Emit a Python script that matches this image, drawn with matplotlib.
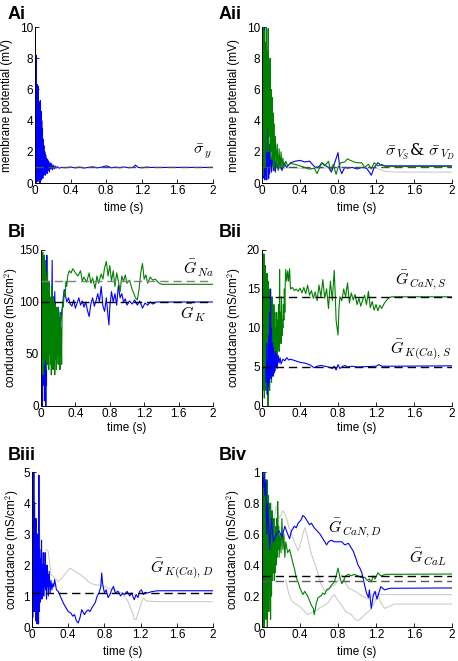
import matplotlib.pyplot as plt
import matplotlib as mpl

# ---- data ----
# panel Ai
ai_t = [0.000, 0.004, 0.008, 0.012, 0.016, 0.020, 0.024, 0.028, 0.032, 0.036, 0.040, 0.044, 0.048, 0.052,
        0.056, 0.060, 0.064, 0.068, 0.072, 0.076, 0.080, 0.084, 0.088, 0.092, 0.096, 0.100, 0.105, 0.110,
        0.115, 0.120, 0.125, 0.130, 0.136, 0.142, 0.148, 0.155, 0.162, 0.170, 0.178, 0.186, 0.195, 0.205,
        0.215, 0.225, 0.235, 0.25, 0.27, 0.3, 0.35, 0.4, 0.45, 0.5, 0.55, 0.6, 0.65, 0.7, 0.75, 0.8, 0.83,
        0.86, 0.9, 0.95, 1.0, 1.05, 1.1, 1.13, 1.16, 1.2, 1.25, 1.3, 2.0]
ai_v = [0.5, 10.0, 0.2, 8.2, 0.0, 6.3, 0.3, 6.3, 0.1, 6.2, 0.4, 5.2, 0.2, 5.0,
        0.0, 5.3, 0.3, 4.6, 0.2, 4.0, 0.5, 3.5, 0.3, 2.8, 0.5, 2.4, 0.6, 2.0,
        0.5, 1.8, 0.7, 1.6, 0.6, 1.5, 0.8, 1.4, 0.7, 1.3, 0.9, 1.25, 0.85, 1.15,
        0.9, 1.1, 0.95, 1.05, 0.95, 1.0, 0.98, 1.03, 0.97, 1.02, 0.96, 1.0, 1.04, 0.97, 1.02, 1.1, 1.05,
        0.97, 1.02, 0.98, 1.03, 0.98, 1.0, 1.15, 1.0, 0.97, 1.02, 1.0, 1.0]
ai_ref = 1.0

# panel Aii
aii_green_t = [0, 0.005, 0.01, 0.015, 0.02, 0.025, 0.03, 0.035, 0.04, 0.045, 0.05, 0.055, 0.06, 0.065,
               0.07, 0.075, 0.08, 0.085, 0.09, 0.095, 0.1, 0.105, 0.11, 0.115, 0.12, 0.125, 0.13, 0.14,
               0.15, 0.16, 0.17, 0.18, 0.19, 0.2, 0.21, 0.22, 0.23, 0.25, 0.27, 0.3, 0.35, 0.4, 0.45, 0.5,
               0.55, 0.58, 0.6, 0.63, 0.66, 0.7, 0.72, 0.75, 0.78, 0.8, 0.83, 0.87, 0.9, 0.93, 0.97, 1.0,
               1.05, 1.08, 1.12, 1.15, 1.18, 1.22, 1.26, 1.3, 2.0]
aii_green_v = [0.5, 9.5, 0.5, 10, 2, 9.8, 1, 9, 3, 10, 2, 8.5, 3.5, 9.9,
               2, 7.5, 3, 8, 1.5, 6, 2, 5.5, 1.5, 4.5, 1, 3.8, 0.8, 3.0,
               1.0, 2.5, 0.8, 2.2, 0.9, 2.0, 1.0, 1.6, 1.0, 1.4, 1.1, 1.25, 1.2, 1.1, 1.0, 0.9,
               0.95, 0.6, 0.9, 1.3, 1.1, 1.4, 0.8, 1.2, 0.55, 1.0, 1.3, 1.35, 1.55, 1.45, 1.35, 1.3,
               1.3, 1.0, 1.2, 0.9, 1.3, 1.1, 1.2, 1.06, 1.06]
aii_blue_t = [0, 0.005, 0.01, 0.015, 0.02, 0.025, 0.03, 0.035, 0.04, 0.045, 0.05, 0.055, 0.06, 0.065,
              0.07, 0.075, 0.08, 0.09, 0.1, 0.11, 0.12, 0.13, 0.14, 0.15, 0.17, 0.19, 0.21, 0.23, 0.26,
              0.3, 0.35, 0.4, 0.45, 0.5, 0.53, 0.56, 0.6, 0.63, 0.66, 0.7, 0.73, 0.76, 0.8, 0.82, 0.84,
              0.87, 0.9, 0.95, 1.0, 1.05, 1.1, 1.13, 1.15, 1.18, 1.22, 1.25, 1.3, 2.0]
aii_blue_v = [0.5, 10, 0.3, 9, 1, 10, 0.2, 7, 0.5, 5.5, 0.2, 4.5, 1, 3.5,
              0.3, 2.5, 0.6, 2.0, 0.7, 2.0, 0.8, 1.8, 0.7, 1.5, 0.9, 1.4, 0.8, 1.3, 1.0,
              1.3, 1.4, 1.45, 1.35, 1.4, 1.2, 1.0, 1.05, 1.3, 1.15, 1.0, 0.7, 1.2, 1.95, 0.9, 0.6,
              1.0, 0.95, 1.0, 0.9, 1.0, 0.95, 0.7, 0.5, 1.0, 1.3, 1.15, 1.1, 1.1]
aii_gray_t = [0.2, 0.25, 0.3, 0.4, 0.5, 0.6, 0.8, 1.0, 1.2, 1.25, 1.3, 1.4, 2.0]
aii_gray_v = [0.9, 0.95, 1.0, 0.95, 0.9, 0.95, 1.0, 1.0, 0.95, 0.85, 0.75, 0.7, 0.7]
aii_ref = 1.0

# panel Bi
bi_green_t = [0, 0.004, 0.008, 0.012, 0.016, 0.02, 0.024, 0.028, 0.032, 0.036, 0.04, 0.044, 0.048, 0.052,
              0.056, 0.06, 0.064, 0.068, 0.072, 0.076, 0.08, 0.085, 0.09, 0.095, 0.1, 0.105, 0.11, 0.115,
              0.12, 0.125, 0.13, 0.135, 0.14, 0.145, 0.15, 0.155, 0.16, 0.165, 0.17, 0.175, 0.18, 0.185,
              0.19, 0.195, 0.2, 0.205, 0.21, 0.215, 0.22, 0.225, 0.23, 0.235, 0.24, 0.245, 0.25, 0.26,
              0.27, 0.28, 0.29, 0.3, 0.31, 0.33, 0.35, 0.37, 0.4, 0.43, 0.46, 0.48, 0.5, 0.53, 0.56, 0.58,
              0.6, 0.63, 0.65, 0.67, 0.7, 0.72, 0.74, 0.76, 0.78, 0.8, 0.82, 0.84, 0.86, 0.88, 0.9, 0.92,
              0.94, 0.96, 0.98, 1.0, 1.03, 1.06, 1.08, 1.1, 1.12, 1.14, 1.16, 1.18, 1.2, 1.22, 1.24, 1.27,
              1.3, 1.33, 1.36, 1.4, 2.0]
bi_green_v = [90, 150, 40, 140, 60, 148, 30, 130, 50, 145, 40, 120, 70, 140,
              45, 125, 35, 115, 60, 130, 40, 110, 35, 120, 50, 105, 40, 100,
              30, 115, 45, 95, 35, 105, 40, 95, 30, 100, 45, 90, 35, 95,
              50, 85, 40, 92, 45, 80, 35, 90, 50, 75, 40, 85, 100, 95,
              110, 105, 120, 115, 125, 130, 128, 132, 128, 125, 130, 120, 124, 119, 128, 118,
              123, 113, 125, 118, 127, 122, 133, 139, 125, 135, 120, 130, 115, 128, 120, 110,
              125, 120, 126, 118, 121, 112, 108, 104, 102, 112, 128, 137, 122, 126, 118, 124,
              121, 122, 119, 117, 117]
bi_blue_t = [0, 0.004, 0.008, 0.012, 0.016, 0.02, 0.024, 0.028, 0.032, 0.036, 0.04, 0.044, 0.048, 0.052,
             0.056, 0.06, 0.064, 0.068, 0.072, 0.076, 0.08, 0.085, 0.09, 0.095, 0.1, 0.11, 0.12, 0.13,
             0.135, 0.14, 0.15, 0.16, 0.17, 0.18, 0.19, 0.2, 0.21, 0.215, 0.22, 0.23, 0.24, 0.25, 0.26,
             0.27, 0.28, 0.3, 0.32, 0.34, 0.36, 0.38, 0.4, 0.42, 0.44, 0.46, 0.48, 0.5, 0.52, 0.54, 0.56,
             0.58, 0.6, 0.62, 0.64, 0.66, 0.68, 0.7, 0.72, 0.74, 0.76, 0.78, 0.79, 0.8, 0.82, 0.84, 0.86,
             0.88, 0.9, 0.92, 0.94, 0.96, 0.98, 1.0, 1.03, 1.06, 1.09, 1.12, 1.15, 1.18, 1.21, 1.24, 1.27,
             1.3, 1.34, 2.0]
bi_blue_v = [60, 145, 10, 130, 0, 110, 40, 140, 20, 120, 5, 100, 30, 125,
             0, 90, 20, 145, 40, 120, 60, 100, 50, 110, 70, 95, 60, 140,
             65, 100, 75, 110, 70, 90, 80, 95, 65, 85, 62, 80, 90, 95, 105,
             112, 108, 100, 104, 98, 96, 102, 94, 99, 104, 97, 101, 95, 100, 92, 86,
             98, 104, 96, 101, 108, 100, 115, 96, 91, 104, 86, 78, 95, 110, 100, 108,
             97, 116, 104, 108, 100, 103, 97, 101, 98, 102, 97, 101, 94, 99, 97, 100,
             98, 100, 100]
bi_ref_na = 120
bi_ref_k = 100

# panel Bii
bii_green_t = [0, 0.004, 0.008, 0.012, 0.016, 0.02, 0.024, 0.028, 0.032, 0.036, 0.04, 0.044, 0.048, 0.052,
               0.056, 0.06, 0.064, 0.068, 0.072, 0.076, 0.08, 0.085, 0.09, 0.095, 0.1, 0.105, 0.11, 0.115,
               0.12, 0.125, 0.13, 0.135, 0.14, 0.145, 0.15, 0.155, 0.16, 0.165, 0.17, 0.175, 0.18, 0.185,
               0.19, 0.195, 0.2, 0.205, 0.21, 0.215, 0.22, 0.225, 0.23, 0.235, 0.24, 0.245, 0.25, 0.26,
               0.27, 0.28, 0.29, 0.3, 0.32, 0.34, 0.36, 0.38, 0.4, 0.42, 0.44, 0.46, 0.48, 0.5, 0.52, 0.54,
               0.56, 0.58, 0.6, 0.62, 0.64, 0.66, 0.68, 0.7, 0.72, 0.74, 0.76, 0.77, 0.78, 0.8, 0.81, 0.82,
               0.84, 0.86, 0.88, 0.9, 0.92, 0.94, 0.96, 0.98, 1.0, 1.02, 1.04, 1.06, 1.08, 1.1, 1.12, 1.14,
               1.16, 1.18, 1.2, 1.22, 1.24, 1.26, 1.28, 1.3, 1.33, 1.36, 2.0]
bii_green_v = [3, 20, 2, 18, 5, 19.5, 1, 16, 4, 18, 2, 15, 6, 17,
               3, 14, 0, 16, 5, 13, 2, 15, 6, 12, 3, 14, 7, 11,
               4, 13, 6, 12, 5, 10, 7, 12, 6, 11, 8, 13, 7, 17.5,
               9, 12, 8, 14, 9, 11, 10, 13, 11, 15, 12, 16, 17.5, 16,
               17.3, 16, 17.6, 15, 15.2, 14.8, 15, 14.7, 15.1, 14.5, 15.2, 14.4, 15.5, 14.2, 14.8, 13.8,
               14.6, 13.5, 15.5, 14.0, 16.2, 13.8, 15.0, 12.5, 16.0, 13.5, 17.4, 14.5, 11.0, 9.1, 12.5, 14.0,
               13.5, 15.0, 14.0, 15.8, 13.2, 14.5, 13.6, 14.3, 13.0, 13.8, 12.8, 13.6, 14.2, 13.0, 14.7, 12.6,
               13.4, 12.3, 13.0, 12.2, 12.9, 12.5, 13.0, 13.4, 13.8, 14.0, 14.0]
bii_blue_t = [0.04, 0.045, 0.05, 0.055, 0.06, 0.065, 0.07, 0.075, 0.08, 0.085, 0.09, 0.095, 0.1, 0.105,
              0.11, 0.115, 0.12, 0.125, 0.13, 0.135, 0.14, 0.145, 0.15, 0.16, 0.17, 0.18, 0.19, 0.2, 0.22,
              0.24, 0.26, 0.28, 0.3, 0.35, 0.4, 0.45, 0.5, 0.55, 0.58, 0.62, 0.66, 0.7, 0.74, 0.76, 0.78,
              0.8, 0.82, 0.84, 0.87, 0.9, 0.95, 1.0, 1.1, 1.2, 1.23, 1.26, 1.4, 2.0]
bii_blue_v = [5, 3, 8, 1.5, 6, 2.5, 9, 3, 12, 4, 15, 3.5, 10, 4.5,
              8, 3.8, 7.5, 4.2, 6.5, 4.5, 7.0, 5.0, 6.8, 4.8, 6.5, 5.5, 6.2, 5.4, 6.0,
              5.8, 6.2, 5.9, 6.0, 5.8, 5.6, 5.5, 5.3, 4.9, 5.1, 5.2, 5.1, 5.0, 4.8, 5.1, 4.6,
              5.3, 4.8, 5.0, 5.2, 5.0, 5.1, 5.0, 5.05, 5.1, 5.3, 5.1, 5.1, 5.15]
bii_ref_can = 14
bii_ref_kca = 5

# panel Biii
biii_blue_t = [0, 0.004, 0.008, 0.012, 0.016, 0.02, 0.024, 0.028, 0.032, 0.036, 0.04, 0.044, 0.048, 0.052,
               0.056, 0.06, 0.064, 0.068, 0.072, 0.076, 0.08, 0.085, 0.09, 0.095, 0.1, 0.105, 0.11, 0.115,
               0.12, 0.125, 0.13, 0.135, 0.14, 0.145, 0.15, 0.155, 0.16, 0.165, 0.17, 0.175, 0.18, 0.19,
               0.2, 0.21, 0.22, 0.23, 0.24, 0.25, 0.27, 0.29, 0.32, 0.35, 0.38, 0.4, 0.43, 0.45, 0.47, 0.49,
               0.51, 0.53, 0.55, 0.57, 0.58, 0.6, 0.62, 0.64, 0.66, 0.68, 0.7, 0.72, 0.74, 0.76, 0.77, 0.78,
               0.8, 0.82, 0.84, 0.86, 0.88, 0.9, 0.92, 0.95, 0.98, 1.0, 1.02, 1.05, 1.08, 1.1, 1.12, 1.13,
               1.15, 1.17, 1.19, 1.21, 1.23, 1.25, 1.28, 1.32, 1.39, 2.0]
biii_blue_v = [2, 5, 0.3, 4.3, 1, 5, 0.5, 4, 1.5, 3.2, 0.2, 3.5, 0.8, 2.8,
               0.1, 3, 1.2, 2.5, 0.1, 4.9, 0.5, 2.5, 0.8, 2.2, 1.0, 2.8, 0.9, 2.0,
               1.2, 2.4, 1.0, 2.0, 1.3, 2.4, 1.2, 1.8, 0.9, 2.0, 1.3, 1.7, 1.0, 1.8,
               1.1, 1.5, 1.2, 1.4, 1.3, 1.53, 1.2, 1.15, 0.94, 0.75, 0.6, 0.5, 0.45, 0.35, 0.4, 0.2,
               0.13, 0.3, 0.56, 0.45, 0.4, 0.5, 0.55, 0.5, 0.61, 0.7, 0.8, 1.0, 1.1, 1.3, 1.74, 1.4,
               1.1, 1.2, 0.95, 1.04, 1.2, 1.31, 1.1, 1.15, 1.0, 1.1, 1.04, 1.15, 1.0, 1.1, 0.95, 0.88,
               1.05, 0.95, 1.15, 1.2, 1.05, 1.12, 1.1, 1.14, 1.17, 1.17]
biii_gray_t = [0.15, 0.18, 0.21, 0.25, 0.29, 0.32, 0.36, 0.39, 0.42, 0.45, 0.47, 0.5, 0.53, 0.56, 0.6,
               0.62, 0.66, 0.69, 0.74, 0.8, 0.85, 0.91, 0.95, 0.99, 1.03, 1.06, 1.09, 1.12, 1.13, 1.15,
               1.17, 1.19, 1.21, 1.23, 1.26, 1.3, 1.4, 2.0]
biii_gray_v = [2.5, 2.44, 1.69, 1.6, 1.47, 1.55, 1.69, 1.8, 1.9, 1.85, 1.8, 1.75, 1.7, 1.63, 1.55,
               1.47, 1.4, 1.37, 1.35, 1.31, 1.25, 1.2, 1.15, 1.1, 0.95, 0.83, 0.6, 0.4, 0.25, 0.24,
               0.45, 0.61, 0.8, 0.94, 0.85, 0.83, 0.82, 0.82]
biii_ref = 1.1

# panel Biv
biv_green_t = [0, 0.004, 0.008, 0.012, 0.016, 0.02, 0.024, 0.028, 0.032, 0.036, 0.04, 0.044, 0.048, 0.052,
               0.056, 0.06, 0.064, 0.068, 0.072, 0.076, 0.08, 0.085, 0.09, 0.095, 0.1, 0.105, 0.11, 0.115,
               0.12, 0.125, 0.13, 0.135, 0.14, 0.145, 0.15, 0.155, 0.16, 0.165, 0.17, 0.175, 0.18, 0.19,
               0.2, 0.21, 0.22, 0.23, 0.24, 0.25, 0.27, 0.29, 0.31, 0.33, 0.34, 0.36, 0.38, 0.4, 0.43, 0.45,
               0.48, 0.5, 0.52, 0.54, 0.55, 0.57, 0.59, 0.62, 0.64, 0.66, 0.68, 0.71, 0.73, 0.76, 0.78, 0.8,
               0.82, 0.84, 0.86, 0.88, 0.91, 0.94, 0.97, 1.01, 1.04, 1.08, 1.11, 1.13, 1.15, 1.17, 1.19,
               1.22, 1.25, 1.3, 1.36, 2.0]
biv_green_v = [0.2, 1.0, 0.0, 0.95, 0.1, 0.85, 0.0, 1.0, 0.2, 0.9, 0.05, 0.8, 0.15, 0.95,
               0.0, 0.75, 0.25, 0.85, 0.1, 0.7, 0.3, 0.8, 0.05, 0.65, 0.2, 0.75, 0.3, 0.6,
               0.35, 0.7, 0.3, 0.55, 0.35, 0.65, 0.4, 0.7, 0.45, 0.81, 0.5, 0.65, 0.45, 0.6,
               0.48, 0.7, 0.5, 0.6, 0.45, 0.55, 0.48, 0.5, 0.45, 0.4, 0.38, 0.32, 0.29, 0.25, 0.21, 0.23,
               0.2, 0.17, 0.14, 0.12, 0.08, 0.15, 0.19, 0.2, 0.22, 0.21, 0.24, 0.25, 0.27, 0.29, 0.33, 0.38,
               0.32, 0.28, 0.3, 0.33, 0.34, 0.33, 0.34, 0.33, 0.32, 0.32, 0.3, 0.31, 0.29, 0.33, 0.31,
               0.35, 0.33, 0.34, 0.34, 0.342]
biv_blue_t = [0.01, 0.02, 0.03, 0.04, 0.05, 0.06, 0.08, 0.1, 0.12, 0.15, 0.18, 0.21, 0.24, 0.27, 0.29,
              0.31, 0.34, 0.36, 0.38, 0.41, 0.43, 0.45, 0.47, 0.5, 0.52, 0.55, 0.58, 0.61, 0.63, 0.66,
              0.68, 0.7, 0.73, 0.76, 0.8, 0.84, 0.87, 0.91, 0.94, 0.96, 0.99, 1.01, 1.03, 1.05, 1.07,
              1.08, 1.1, 1.12, 1.13, 1.15, 1.17, 1.19, 1.21, 1.22, 1.25, 1.29, 1.35, 2.0]
biv_blue_v = [0.9, 1.0, 0.85, 0.95, 0.6, 0.8, 0.5, 0.7, 0.55, 0.6, 0.62, 0.58, 0.65, 0.6, 0.57,
              0.62, 0.65, 0.64, 0.67, 0.69, 0.72, 0.71, 0.69, 0.66, 0.67, 0.64, 0.62, 0.6, 0.58, 0.55,
              0.53, 0.55, 0.56, 0.55, 0.55, 0.55, 0.53, 0.54, 0.51, 0.49, 0.44, 0.4, 0.38, 0.35, 0.3,
              0.27, 0.22, 0.19, 0.24, 0.12, 0.2, 0.23, 0.18, 0.2, 0.26, 0.24, 0.25, 0.252]
biv_gray1_t = [0.05, 0.08, 0.1, 0.12, 0.15, 0.18, 0.22, 0.25, 0.28, 0.31, 0.34, 0.38, 0.41, 0.43, 0.45,
               0.48, 0.5, 0.52, 0.55, 0.59, 0.62, 0.66, 0.7, 0.73, 0.76, 0.8, 0.84, 0.87, 0.91, 0.95,
               1.01, 1.05, 1.09, 1.12, 1.15, 1.19, 1.23, 1.29, 1.36, 2.0]
biv_gray1_v = [0.7, 0.6, 0.8, 0.65, 0.78, 0.7, 0.75, 0.72, 0.65, 0.6, 0.55, 0.49, 0.55, 0.6, 0.64,
               0.58, 0.52, 0.47, 0.42, 0.34, 0.28, 0.23, 0.24, 0.26, 0.27, 0.3, 0.34, 0.3, 0.25, 0.24,
               0.22, 0.2, 0.19, 0.18, 0.2, 0.23, 0.21, 0.21, 0.209, 0.209]
biv_gray2_t = [0.25, 0.28, 0.31, 0.35, 0.38, 0.42, 0.45, 0.48, 0.51, 0.55, 0.6, 0.66, 0.7, 0.73, 0.76,
               0.8, 0.84, 0.88, 0.94, 0.98, 1.01, 1.05, 1.08, 1.12, 1.15, 1.19, 1.22, 1.25, 1.29, 1.33,
               1.36, 1.4, 2.0]
biv_gray2_v = [0.3, 0.22, 0.17, 0.15, 0.14, 0.12, 0.1, 0.08, 0.09, 0.1, 0.12, 0.14, 0.16, 0.19, 0.21,
               0.17, 0.14, 0.1, 0.08, 0.05, 0.04, 0.06, 0.08, 0.1, 0.12, 0.17, 0.21, 0.16, 0.12, 0.13,
               0.14, 0.148, 0.148]
biv_ref_cal = 0.33
biv_ref_can = 0.30

time_ticks = [0, 0.4, 0.8, 1.2, 1.6, 2]
time_labels = ['0', '0.4', '0.8', '1.2', '1.6', '2']

BLUE = (0, 0, 1)
GREEN = (0, 0.5, 0)
GRAY = (0.8, 0.8, 0.8)

mpl.rcParams['font.family'] = 'Liberation Sans'
mpl.rcParams['font.size'] = 8
mpl.rcParams['mathtext.fontset'] = 'cm'


def setup_axes(ax, yticks, ylabels, ylabel, ylab_x, xlab_y):
    ax.set_xlim(0, 2)
    ax.set_ylim(yticks[0], yticks[-1])
    ax.set_xticks(time_ticks)
    ax.set_xticklabels(time_labels)
    ax.set_yticks(yticks)
    ax.set_yticklabels(ylabels)
    ax.tick_params(direction='in', length=3, width=0.6, labelsize=8.5, pad=1.5)
    for s in ['top', 'right']:
        ax.spines[s].set_visible(False)
    for s in ['left', 'bottom']:
        ax.spines[s].set_linewidth(0.7)
    ax.set_xlabel('time (s)', fontsize=8.5, va='center')
    ax.set_ylabel(ylabel, fontsize=8.5, va='center')
    ax.xaxis.set_label_coords(0.5, xlab_y)
    ax.yaxis.set_label_coords(ylab_x, 0.5)


def ref_line(ax, y, color='k'):
    ax.axhline(y, color=color, linestyle=(0, (6, 3.5)), linewidth=1.0, zorder=5)


fig = plt.figure(figsize=(4.58, 6.61), dpi=100)

mp = 'membrane potential (mV)'
cond = 'conductance (mS/cm$^2$)'
LFS = 11.5

# Ai
ax = fig.add_axes([0.0764, 0.7231, 0.3886, 0.2360])
ax.plot(ai_t, ai_v, color=BLUE, lw=0.8)
ref_line(ax, ai_ref, (0.3, 0.3, 0.3))
setup_axes(ax, [0, 2, 4, 6, 8, 10], ['0', '2', '4', '6', '8', '10'], mp, -0.155, -0.16)
ax.text(1.88, 2.0, r'$\bar{\sigma}_{\,y}$', fontsize=LFS, ha='center', va='center')

# Aii
ax = fig.add_axes([0.5721, 0.7231, 0.4148, 0.2360])
ax.plot(aii_gray_t, aii_gray_v, color=GRAY, lw=0.8)
ax.plot(aii_blue_t, aii_blue_v, color=BLUE, lw=0.8)
ax.plot(aii_green_t, aii_green_v, color=GREEN, lw=0.8)
ref_line(ax, aii_ref, (0.3, 0.3, 0.3))
setup_axes(ax, [0, 2, 4, 6, 8, 10], ['0', '2', '4', '6', '8', '10'], mp, -0.145, -0.16)
ax.text(1.66, 2.0, r'$\bar{\sigma}_{\,V_S}$& $\bar{\sigma}_{\,V_D}$', fontsize=LFS,
        family='DejaVu Serif', ha='center', va='center')

# Bi
ax = fig.add_axes([0.0895, 0.3858, 0.3755, 0.2360])
ax.plot(bi_blue_t, bi_blue_v, color=BLUE, lw=0.8)
ax.plot(bi_green_t, bi_green_v, color=GREEN, lw=0.8)
ref_line(ax, bi_ref_na, (0.5, 0.5, 0.5))
ref_line(ax, bi_ref_k)
setup_axes(ax, [0, 50, 100, 150], ['0', '50', '100', '150'], cond, -0.172, -0.141)
ax.text(1.83, 132, r'$\bar{G}_{\,Na}$', fontsize=LFS, ha='center', va='center')
ax.text(1.77, 89, r'$\bar{G}_{\,K}$', fontsize=LFS, ha='center', va='center')

# Bii
ax = fig.add_axes([0.5721, 0.3858, 0.4148, 0.2360])
ax.plot(bii_green_t, bii_green_v, color=GREEN, lw=0.8)
ax.plot(bii_blue_t, bii_blue_v, color=BLUE, lw=0.8)
ref_line(ax, bii_ref_can)
ref_line(ax, bii_ref_kca)
setup_axes(ax, [0, 5, 10, 15, 20], ['0', '5', '10', '15', '20'], cond, -0.145, -0.141)
ax.text(1.67, 16.2, r'$\bar{G}_{\,CaN,S}$', fontsize=LFS, ha='center', va='center')
ax.text(1.67, 7.2, r'$\bar{G}_{\,K(Ca),S}$', fontsize=LFS, ha='center', va='center')

# Biii
ax = fig.add_axes([0.0699, 0.0514, 0.3952, 0.2345])
ax.plot(biii_gray_t, biii_gray_v, color=GRAY, lw=0.8)
ax.plot(biii_blue_t, biii_blue_v, color=BLUE, lw=0.8)
ref_line(ax, biii_ref)
setup_axes(ax, [0, 1, 2, 3, 4, 5], ['0', '1', '2', '3', '4', '5'], cond, -0.11, -0.161)
ax.text(1.65, 1.9, r'$\bar{G}_{\,K(Ca),D}$', fontsize=LFS, ha='center', va='center')

# Biv
ax = fig.add_axes([0.5721, 0.0514, 0.4148, 0.2345])
ax.plot(biv_gray1_t, biv_gray1_v, color=GRAY, lw=0.8)
ax.plot(biv_gray2_t, biv_gray2_v, color=GRAY, lw=0.8)
ax.plot(biv_green_t, biv_green_v, color=GREEN, lw=0.8)
ax.plot(biv_blue_t, biv_blue_v, color=BLUE, lw=0.8)
ref_line(ax, biv_ref_cal)
ref_line(ax, biv_ref_can, (0.35, 0.35, 0.35))
setup_axes(ax, [0, 0.2, 0.4, 0.6, 0.8, 1.0], ['0', '0.2', '0.4', '0.6', '0.8', '1'], cond, -0.15, -0.161)
ax.text(0.98, 0.64, r'$\bar{G}_{\,CaN,D}$', fontsize=LFS, ha='center', va='center')
ax.text(1.75, 0.45, r'$\bar{G}_{\,CaL}$', fontsize=LFS, ha='center', va='center')

# panel letters
for lbl, x, y in [('Ai', 0.017, 0.971), ('Aii', 0.478, 0.971),
                  ('Bi', 0.017, 0.641), ('Bii', 0.478, 0.641),
                  ('Biii', 0.017, 0.304), ('Biv', 0.478, 0.304)]:
    fig.text(x, y, lbl, fontsize=13, fontweight='bold', ha='left', va='baseline')

plt.savefig('out.png', dpi=100)
